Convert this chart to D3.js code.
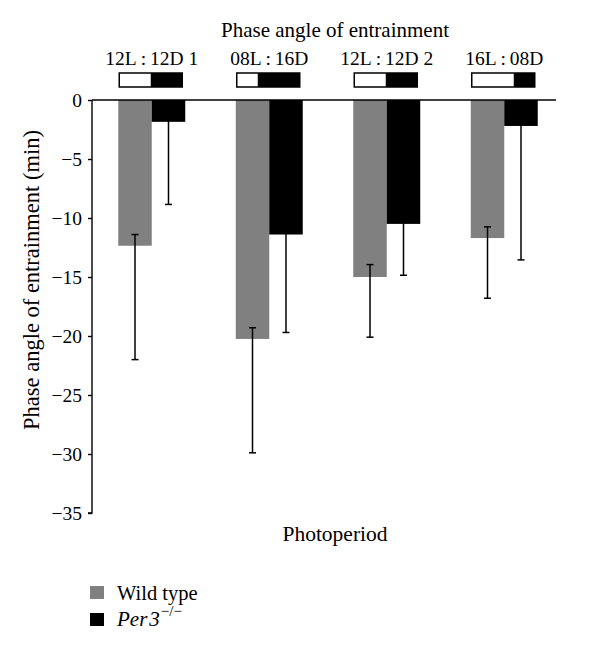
<!DOCTYPE html>
<html>
<head>
<meta charset="utf-8">
<script src="https://cdn.jsdelivr.net/npm/d3@7"></script>
<style>
  body { margin: 0; background: #fff; }
  svg { display: block; }
  svg text { font-family: "Liberation Serif", "DejaVu Serif", serif !important; fill: #000; }
</style>
</head>
<body>
<svg id="chart" width="600" height="653"></svg>
<script>
// ---- data ----
const categories = ["12L\u2009:\u200912D 1", "08L\u2009:\u200916D", "12L\u2009:\u200912D 2", "16L\u2009:\u200908D"];
const lightHours = [12, 8, 12, 16];
const series = ["Wild type", "Per3"];
const wildType = [-12.35, -20.25, -15.0, -11.7];
const wildTypeErrTop = [-11.4, -19.3, -13.95, -10.75];
const wildTypeErrBottom = [-22.0, -29.9, -20.1, -16.8];
const per3 = [-1.85, -11.4, -10.5, -2.2];
const per3ErrTop = [-0.9, -10.4, -9.5, -1.2];
const per3ErrBottom = [-8.85, -19.7, -14.85, -13.55];
const yTicks = [0, -5, -10, -15, -20, -25, -30, -35];

const colors = ["#808080", "#000000"];

const svg = d3.select("#chart");
const axisX = 92;

const y = d3.scaleLinear().domain([0, -35]).range([100, 513]);
const x0 = d3.scaleBand().domain(categories).range([axisX, 564]).paddingInner(0.43).paddingOuter(0.2235);
const x1 = d3.scaleBand().domain(series).range([0, x0.bandwidth()]);

const data = categories.map((c, i) => ({
  cat: c,
  light: lightHours[i],
  vals: [
    { s: series[0], v: wildType[i], top: wildTypeErrTop[i], bot: wildTypeErrBottom[i], c: colors[0] },
    { s: series[1], v: per3[i], top: per3ErrTop[i], bot: per3ErrBottom[i], c: colors[1] }
  ]
}));

// bars
const g = svg.append("g");
const groups = g.selectAll(".grp").data(data).join("g")
  .attr("transform", d => `translate(${x0(d.cat)},0)`);

groups.selectAll("rect.bar").data(d => d.vals).join("rect")
  .attr("class", "bar")
  .attr("x", d => x1(d.s))
  .attr("y", y(0))
  .attr("width", x1.bandwidth())
  .attr("height", d => y(d.v) - y(0))
  .attr("fill", d => d.c);

// error bars
const capW = 7;
const eb = groups.selectAll("g.eb").data(d => d.vals).join("g").attr("class", "eb")
  .attr("stroke", "#000").attr("stroke-width", 1.5);
eb.append("line")
  .attr("x1", d => x1(d.s) + x1.bandwidth() / 2)
  .attr("x2", d => x1(d.s) + x1.bandwidth() / 2)
  .attr("y1", d => y(d.top)).attr("y2", d => y(d.bot));
eb.append("line")
  .attr("x1", d => x1(d.s) + x1.bandwidth() / 2 - capW / 2)
  .attr("x2", d => x1(d.s) + x1.bandwidth() / 2 + capW / 2)
  .attr("y1", d => y(d.bot)).attr("y2", d => y(d.bot));
eb.append("line")
  .attr("x1", d => x1(d.s) + x1.bandwidth() / 2 - capW / 2)
  .attr("x2", d => x1(d.s) + x1.bandwidth() / 2 + capW / 2)
  .attr("y1", d => y(d.top)).attr("y2", d => y(d.top));

// y axis
const yAxis = d3.axisLeft(y).tickValues(yTicks).tickSize(4).tickPadding(6)
  .tickFormat(d => d === 0 ? "0" : "\u2212" + Math.abs(d));
const ya = svg.append("g").attr("transform", `translate(${axisX},0)`).call(yAxis)
  .attr("font-family", null).attr("font-size", null);
ya.select(".domain").attr("stroke", "#000").attr("stroke-width", 1.4).attr("d", `M-4,${y(-35)}H0V${y(0)}`);
ya.selectAll(".tick line").attr("stroke", "#000").attr("stroke-width", 1.4);
ya.selectAll(".tick text").style("font-size", "19.5px").attr("fill", "#000");

// top zero line
svg.append("line").attr("x1", axisX).attr("x2", 556).attr("y1", y(0)).attr("y2", y(0))
  .attr("stroke", "#000").attr("stroke-width", 1.4);

// category labels
svg.selectAll("text.cat").data(data).join("text")
  .attr("class", "cat")
  .attr("x", d => x0(d.cat) + x0.bandwidth() / 2)
  .attr("y", 65)
  .attr("text-anchor", "middle")
  .attr("font-size", 19.5)
  .text(d => d.cat);

// light/dark boxes
const boxW = 63, boxH = 14;
const boxes = svg.selectAll("g.ld").data(data).join("g").attr("class", "ld")
  .attr("transform", d => `translate(${x0(d.cat) + x0.bandwidth() / 2 - boxW / 2 - 1},73)`);
const hx = d3.scaleLinear().domain([0, 24]).range([0, boxW]);
boxes.append("rect").attr("x", 0).attr("y", 0).attr("width", d => hx(d.light)).attr("height", boxH)
  .attr("fill", "#fff");
boxes.append("rect").attr("x", d => hx(d.light)).attr("y", 0).attr("width", d => hx(24) - hx(d.light)).attr("height", boxH)
  .attr("fill", "#000");
boxes.append("rect").attr("x", 0).attr("y", 0).attr("width", boxW).attr("height", boxH)
  .attr("fill", "none").attr("stroke", "#000").attr("stroke-width", 1.5);

// titles
svg.append("text").attr("x", 335).attr("y", 37).attr("text-anchor", "middle").attr("font-size", 21)
  .text("Phase angle of entrainment");
svg.append("text").attr("x", 335).attr("y", 541).attr("text-anchor", "middle").attr("font-size", 21.5)
  .text("Photoperiod");
svg.append("text").attr("transform", `translate(39,280) rotate(-90)`).attr("text-anchor", "middle")
  .attr("font-size", 22.5).text("Phase angle of entrainment (min)");

// legend
const leg = svg.append("g");
leg.append("rect").attr("x", 90).attr("y", 586).attr("width", 14).attr("height", 13).attr("fill", colors[0]);
leg.append("rect").attr("x", 90).attr("y", 613).attr("width", 14).attr("height", 13).attr("fill", colors[1]);
leg.append("text").attr("x", 117).attr("y", 600).attr("font-size", 20.5).text("Wild type");
const t2 = leg.append("text").attr("x", 117).attr("y", 626).attr("font-size", 21);
t2.append("tspan").attr("font-style", "italic").text("Per");
t2.append("tspan").attr("font-style", "italic").attr("dx", 2).text("3");
t2.append("tspan").attr("font-size", 15).attr("dy", -10).attr("dx", 1).text("\u2212/\u2212");
</script>
</body>
</html>
